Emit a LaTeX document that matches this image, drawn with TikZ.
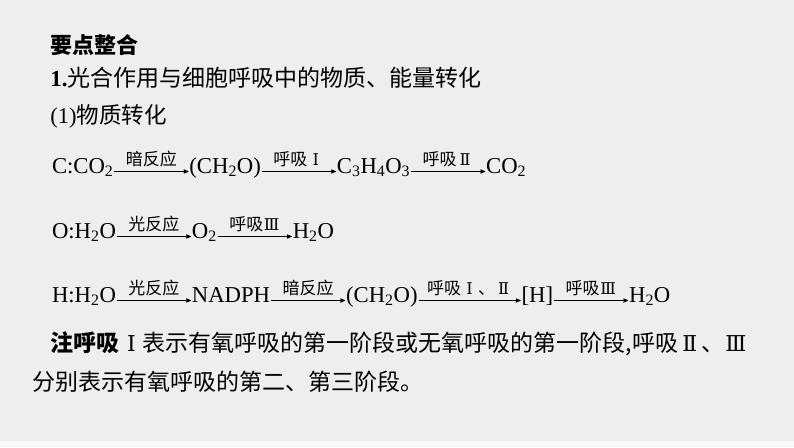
\documentclass[tikz,border=0pt]{standalone}
\usepackage{fontspec}
\setmainfont{Liberation Serif}
\newfontfamily\cjk{Noto Sans CJK SC}
\newfontfamily\numfont[Scale=0.95]{DejaVu Serif}
\newcommand\romnum[1]{\makebox[1em]{\numfont #1}}
\usetikzlibrary{arrows}
\usetikzlibrary{positioning}
\definecolor{bggray}{RGB}{238,238,238}

\begin{document}
\begin{tikzpicture}[x=1pt,y=-1pt,>=stealth',shorten >=1pt,shorten <=1pt,auto,node distance=76pt,thick,
    chem/.style={inner sep=0pt,outer sep=0pt,text height=15pt,text depth=12pt,font=\fontsize{22.7}{27}\selectfont},
    lbl/.style={font=\cjk\fontsize{17}{19}\selectfont,inner sep=4.5pt},
    txt/.style={anchor=base west,inner sep=0pt}]

      \fill[bggray] (0,0) rectangle (794,447);
      \fill[white!60!bggray] (0,441) rectangle (794,447);
      \useasboundingbox (0,0) rectangle (794,447);

      \node (title) [txt,font=\cjk\bfseries\fontsize{22}{26}\selectfont] at (50,53) {要点整合};
      \node (sec) [txt,font=\fontsize{23}{27}\selectfont] at (50,86) {\textbf{1.}{\cjk 光合作用与细胞呼吸中的物质、能量转化}};
      \node (sub) [txt,font=\fontsize{22.5}{27}\selectfont] at (50,123) {(1){\cjk 物质转化}};

      % carbon
      \node (c0) [chem,anchor=base west] at (52,173) {C:CO\textsubscript{2}};
      \node (c1) [chem,right=of c0] {(CH\textsubscript{2}O)};
      \node (c2) [chem,right=of c1] {C\textsubscript{3}H\textsubscript{4}O\textsubscript{3}};
      \node (c3) [chem,right=of c2] {CO\textsubscript{2}};

      % oxygen
      \node (o0) [chem,anchor=base west] at (52,238) {O:H\textsubscript{2}O};
      \node (o1) [chem,right=of o0] {O\textsubscript{2}};
      \node (o2) [chem,right=of o1] {H\textsubscript{2}O};

      % hydrogen
      \node (h0) [chem,anchor=base west] at (52,302) {H:H\textsubscript{2}O};
      \node (h1) [chem,right=of h0] {NADPH};
      \node (h2) [chem,right=of h1] {(CH\textsubscript{2}O)};
      \node (h3) [chem,right=104pt of h2] {[H]};
      \node (h4) [chem,right=of h3] {H\textsubscript{2}O};

      \path[every node/.style={lbl},->]
        (c0) edge node {暗反应} (c1)
        (c1) edge node {呼吸\romnum{Ⅰ}} (c2)
        (c2) edge node {呼吸\romnum{Ⅱ}} (c3)
        (o0) edge node {光反应} (o1)
        (o1) edge node {呼吸\romnum{Ⅲ}} (o2)
        (h0) edge node {光反应} (h1)
        (h1) edge node {暗反应} (h2)
        (h2) edge node {呼吸\romnum{Ⅰ}、\romnum{Ⅱ}} (h3)
        (h3) edge node {呼吸\romnum{Ⅲ}} (h4);

      \node (note1) [txt,font=\cjk\fontsize{23}{27}\selectfont] at (50.5,351) {\textbf{注呼吸}\romnum{Ⅰ}表示有氧呼吸的第一阶段或无氧呼吸的第一阶段,呼吸\romnum{Ⅱ}、\romnum{Ⅲ}};
      \node (note2) [txt,font=\cjk\fontsize{23}{27}\selectfont] at (32,390) {分别表示有氧呼吸的第二、第三阶段。};
    \end{tikzpicture}
\end{document}
